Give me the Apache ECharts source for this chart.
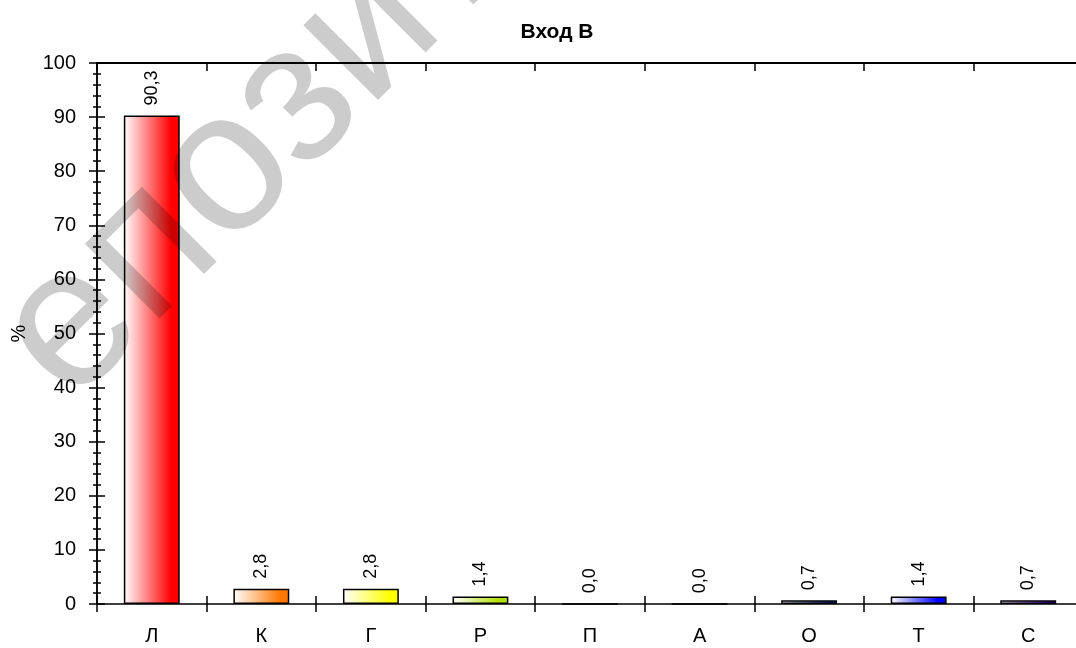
<!DOCTYPE html>
<html>
<head>
<meta charset="utf-8">
<title>Вход В</title>
<script src="https://cdn.jsdelivr.net/npm/echarts@6/dist/echarts.min.js"></script>
<style>
  html, body { margin: 0; padding: 0; background: #fff; }
  #chart { width: 1076px; height: 648px; }
</style>
</head>
<body>
<div id="chart"></div>
<script>
// data
const categories = ["Л", "К", "Г", "Р", "П", "А", "О", "Т", "С"];
const percents = [90.3, 2.8, 2.8, 1.4, 0.0, 0.0, 0.7, 1.4, 0.7];
const barColors = ["#ff0000", "#ff7700", "#ffff00", "#b0e000", "#00b000", "#00b0b0", "#0a2a90", "#0000ff", "#4a00c8"];
const yTicks = [0, 10, 20, 30, 40, 50, 60, 70, 80, 90, 100];

const font = "Liberation Sans, Arial, sans-serif";

let myChart = echarts.init(document.getElementById("chart"));

const barData = percents.map((v, i) => ({
  value: v,
  itemStyle: {
    color: new echarts.graphic.LinearGradient(0, 0, 1, 0, [
      { offset: 0, color: "#ffffff" },
      { offset: 0.85, color: barColors[i] },
      { offset: 1, color: barColors[i] }
    ])
  }
}));

const yBase = {
  type: "value",
  min: yTicks[0],
  max: yTicks[yTicks.length - 1],
  interval: 10,
  position: "left",
  splitLine: { show: false },
  axisLine: { show: true, lineStyle: { color: "#000", width: 1.5 } },
  minorTick: { show: true, splitNumber: 5, length: 4, lineStyle: { color: "#000", width: 1.5 } },
  minorSplitLine: { show: false }
};

const option = {
  animation: false,
  backgroundColor: "#fff",
  title: {
    text: "Вход В",
    left: 552,
    textAlign: "center",
    top: 17,
    textStyle: { fontFamily: font, fontSize: 21, fontWeight: "bold", color: "#000" }
  },
  grid: { left: 97, top: 63, bottom: 44, width: 986, containLabel: false, outerBoundsMode: "none" },
  xAxis: [
    {
      type: "category",
      data: categories,
      position: "bottom",
      axisLine: { show: true, lineStyle: { color: "#000", width: 1.5 } },
      axisTick: { show: true, inside: false, length: 8, lineStyle: { color: "#000", width: 1.5 } },
      axisLabel: { margin: 22, fontFamily: font, fontSize: 20, color: "#000" },
      splitLine: { show: false }
    },
    {
      type: "category",
      data: categories,
      position: "bottom",
      axisLine: { show: false },
      axisTick: { show: true, inside: true, length: 8, lineStyle: { color: "#000", width: 1.5 } },
      axisLabel: { show: false },
      splitLine: { show: false }
    },
    {
      type: "category",
      data: categories,
      position: "top",
      axisLine: { show: true, lineStyle: { color: "#000", width: 2 } },
      axisTick: { show: true, inside: true, length: 8, lineStyle: { color: "#000", width: 1.5 } },
      axisLabel: { show: false },
      splitLine: { show: false }
    }
  ],
  yAxis: [
    Object.assign({}, yBase, {
      name: "%",
      nameLocation: "middle",
      nameRotate: 90,
      nameGap: 68,
      nameTextStyle: { fontFamily: font, fontSize: 20, color: "#000" },
      axisTick: { show: true, inside: false, length: 8, lineStyle: { color: "#000", width: 1.5 } },
      axisLabel: { margin: 21, fontFamily: font, fontSize: 20, color: "#000" }
    }),
    Object.assign({}, yBase, {
      axisTick: { show: true, inside: true, length: 8, lineStyle: { color: "#000", width: 1.5 } },
      axisLabel: { show: false }
    })
  ],
  series: [
    {
      name: "Вход В",
      type: "bar",
      data: barData,
      barWidth: "51%",
      itemStyle: { borderColor: "#000", borderWidth: 1.5 },
      label: {
        show: true,
        position: "top",
        rotate: 90,
        align: "left",
        verticalAlign: "middle",
        distance: 10,
        fontFamily: font,
        fontSize: 18,
        color: "#000",
        formatter: p => p.value.toFixed(1).replace(".", ",")
      }
    }
  ],
  // semi-transparent watermark lying over the chart
  graphic: [
    {
      type: "text",
      x: 32,
      y: 368,
      rotation: Math.PI / 4,
      z: 100,
      silent: true,
      style: {
        text: "епозиторий",
        fontFamily: font,
        fontSize: 200,
        fill: "rgba(0,0,0,0.2)",
        align: "left",
        verticalAlign: "middle"
      }
    }
  ]
};

myChart.setOption(option, true);
</script>
</body>
</html>
